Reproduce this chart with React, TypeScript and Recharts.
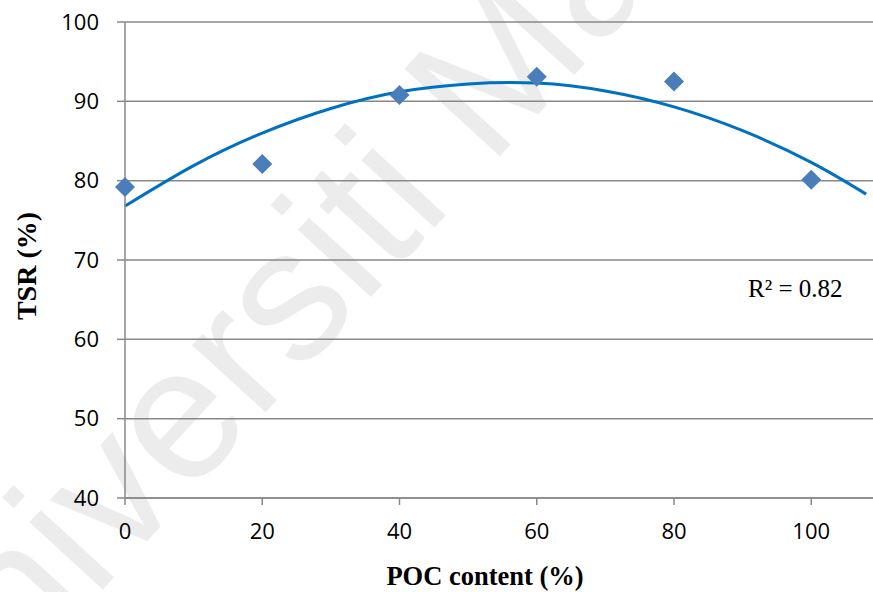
import { ComposedChart, Line, Scatter, XAxis, YAxis, CartesianGrid, Label } from "recharts";

// measured points
const pocContent = [0, 20, 40, 60, 80, 100];
const tsr = [79.2, 82.1, 90.8, 93.1, 92.5, 80.1];

// polynomial trend line
const trendX = [0, 10, 20, 30, 40, 50, 60, 70, 80, 90, 100, 108];
const trendY = [76.8, 81.9, 86.0, 89.1, 91.2, 92.2, 92.3, 91.3, 89.3, 86.3, 82.3, 78.3];

const xTicks = [0, 20, 40, 60, 80, 100];
const yTicks = [40, 50, 60, 70, 80, 90, 100];

const points = pocContent.map((x, i) => ({ x, y: tsr[i] }));
const trend = trendX.map((x, i) => ({ x, y: trendY[i] }));

const GRID = "#888888";
const tickStyle = { fill: "#000", fontSize: 22, fontFamily: "Open Sans, sans-serif" };
const serif = "Liberation Serif, Times New Roman, serif";
const titleStyle = { fontFamily: serif, fontWeight: 700, fontSize: 26.5, fill: "#000" };

function Diamond(props: any) {
  const { cx, cy } = props;
  const r = 10;
  return <polygon points={`${cx},${cy - r} ${cx + r},${cy} ${cx},${cy + r} ${cx - r},${cy}`} fill="#4A7EBB" />;
}

function YTitle({ viewBox }: any) {
  const x = viewBox.x + 26;
  const y = viewBox.y + viewBox.height / 2 + 6;
  return (
    <text
      x={x}
      y={y}
      transform={`rotate(-90 ${x} ${y})`}
      textAnchor="middle"
      dominantBaseline="central"
      style={{ ...titleStyle, fontSize: 28 }}
    >
      TSR (%)
    </text>
  );
}

export default function App() {
  return (
    <div style={{ position: "absolute", left: 0, top: 0, width: 873, height: 592, background: "#fff", overflow: "hidden" }}>
      <svg width={873} height={592} style={{ position: "absolute", left: 0, top: 0 }}>
        <text
          x={-68}
          y={776}
          transform="rotate(-47.5 -68 776)"
          style={{ fontFamily: "Liberation Sans, Arial, sans-serif", fontSize: 188, fill: "#ececec" }}
        >
          Universiti Malaya
        </text>
      </svg>
      <div style={{ position: "absolute", left: 0, top: 0 }}>
        <ComposedChart width={873} height={592} margin={{ top: 22, right: 0, bottom: 0, left: 0 }}>
          <CartesianGrid vertical={false} stroke={GRID} strokeWidth={1.5} />
          <XAxis
            type="number"
            dataKey="x"
            domain={[0, 109]}
            ticks={xTicks}
            height={94}
            stroke={GRID}
            strokeWidth={1.5}
            tickSize={7}
            tickMargin={18}
            tick={tickStyle}
          >
            <Label value="POC content (%)" position="insideBottom" offset={7} dx={-14} style={titleStyle} />
          </XAxis>
          <YAxis
            type="number"
            dataKey="y"
            domain={[40, 100]}
            ticks={yTicks}
            width={125}
            stroke={GRID}
            strokeWidth={1.5}
            tickSize={8}
            tickMargin={18}
            tick={tickStyle}
          >
            <Label content={<YTitle />} />
          </YAxis>
          <Line
            data={trend}
            dataKey="y"
            type="natural"
            stroke="#0070C0"
            strokeWidth={3}
            dot={false}
            isAnimationActive={false}
          />
          <Scatter data={points} dataKey="y" shape={<Diamond />} isAnimationActive={false} />
        </ComposedChart>
      </div>
      <svg width={873} height={592} style={{ position: "absolute", left: 0, top: 0, pointerEvents: "none" }}>
        <text x={748} y={297} style={{ fontFamily: serif, fontSize: 25, fill: "#000" }}>
          R² = 0.82
        </text>
      </svg>
    </div>
  );
}
